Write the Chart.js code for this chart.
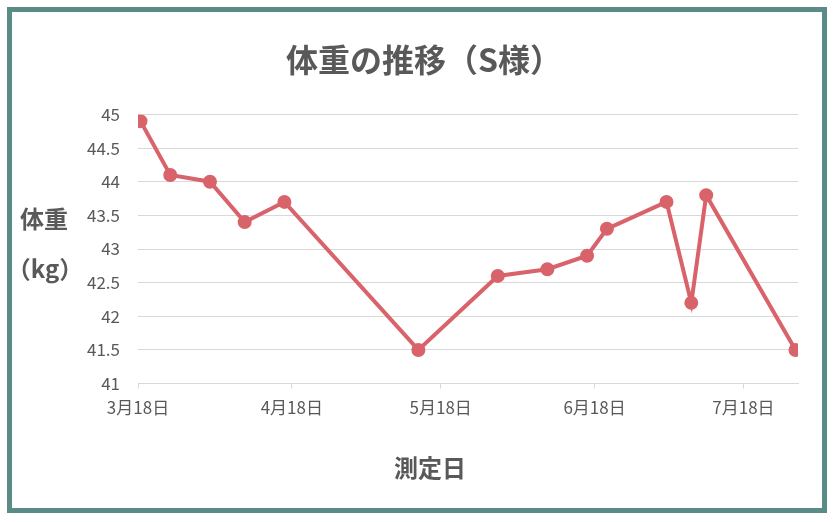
<!DOCTYPE html>
<html>
<head>
<meta charset="utf-8">
<script src="https://cdn.jsdelivr.net/npm/chart.js@4/dist/chart.umd.min.js"></script>
<style>
  body { margin: 0; background: #fff; }
  #box { position: relative; width: 834px; height: 522px; }
  #waku { position: absolute; left: 7px; top: 7px; width: 820px; height: 506px;
          box-sizing: border-box; border: 5px solid #5b8b86; pointer-events: none; }
  canvas { position: absolute; left: 0; top: 0; }
</style>
</head>
<body>
<div id="box">
  <canvas id="grafico" width="834" height="522"></canvas>
  <div id="waku"></div>
</div>
<script>
// 測定日と体重
var fechas = ['3/18', '3/24', '4/1', '4/8', '4/16', '5/13', '5/29', '6/8',
              '6/16', '6/20', '7/2', '7/7', '7/10', '7/28'];
var pesos = [44.9, 44.1, 44.0, 43.4, 43.7, 41.5, 42.6, 42.7,
             42.9, 43.3, 43.7, 42.2, 43.8, 41.5];

// 目盛りの日付
var fechasEje = ['3/18', '4/18', '5/18', '6/18', '7/18'];

var colorTexto = '#595959';
var fuente = '"Noto Sans CJK JP", "Noto Sans", sans-serif';

// 日付文字列 -> 3/18 からの日数
function diaDesde(s) {
    var p = s.split('/');
    var base = Date.UTC(2023, 2, 18);
    return Math.round((Date.UTC(2023, +p[0] - 1, +p[1]) - base) / 86400000);
}

function etiquetaFecha(s) {
    var p = s.split('/');
    return p[0] + '月' + p[1] + '日';
}

var puntos = fechas.map(function(f, i) {
    return { x: diaDesde(f), y: pesos[i] };
});
var ultimoDia = diaDesde(fechas[fechas.length - 1]);

// 軸ラベル（縦軸は横書き2行、横軸は図の中央）
var titulosEje = {
    id: 'titulosEje',
    afterDraw: function(chart) {
        var ctx = chart.ctx;
        ctx.save();
        ctx.fillStyle = colorTexto;
        ctx.font = 'bold 24px ' + fuente;
        ctx.textAlign = 'center';
        ctx.textBaseline = 'middle';
        ctx.fillText('体重', 44, 219);
        ctx.fillText('（kg）', 45, 269);
        ctx.fillText('測定日', 430, 468);
        ctx.restore();
    }
};

new Chart(document.getElementById('grafico'), {
    type: 'line',
    data: {
        datasets: [{
            label: '体重',
            data: puntos,
            borderColor: '#d9636a',
            backgroundColor: '#d9636a',
            borderWidth: 4,
            pointRadius: 5,
            pointHoverRadius: 5,
            tension: 0
        }]
    },
    options: {
        responsive: false,
        animation: false,
        layout: { padding: { left: 50, right: 36, top: 0, bottom: 95 } },
        plugins: {
            legend: { display: false },
            tooltip: { enabled: false },
            title: {
                display: true,
                text: '体重の推移（S様）',
                color: colorTexto,
                font: { family: fuente, size: 32, weight: 'bold' },
                padding: { top: 41, bottom: 35 }
            }
        },
        scales: {
            x: {
                type: 'linear',
                min: -0.5,
                max: ultimoDia + 0.5,
                afterBuildTicks: function(axis) {
                    axis.ticks = fechasEje.map(function(f) {
                        return { value: diaDesde(f) - 0.5, label: etiquetaFecha(f) };
                    });
                },
                ticks: {
                    autoSkip: false,
                    maxRotation: 0,
                    color: colorTexto,
                    font: { family: fuente, size: 17 },
                    padding: 9,
                    callback: function(v, i) {
                        return etiquetaFecha(fechasEje[i]);
                    }
                },
                grid: { drawOnChartArea: false, drawTicks: true, tickLength: 5, color: '#d9d9d9' },
                border: { color: '#d9d9d9' }
            },
            y: {
                min: 41,
                max: 45,
                afterFit: function(axis) {
                    axis.width = 88;
                },
                ticks: {
                    stepSize: 0.5,
                    color: colorTexto,
                    font: { family: fuente, size: 17 },
                    padding: 18,
                    callback: function(v) {
                        return String(v);
                    }
                },
                grid: { color: '#d9d9d9', drawTicks: false },
                border: { display: false }
            }
        }
    },
    plugins: [titulosEje]
});
</script>
</body>
</html>
